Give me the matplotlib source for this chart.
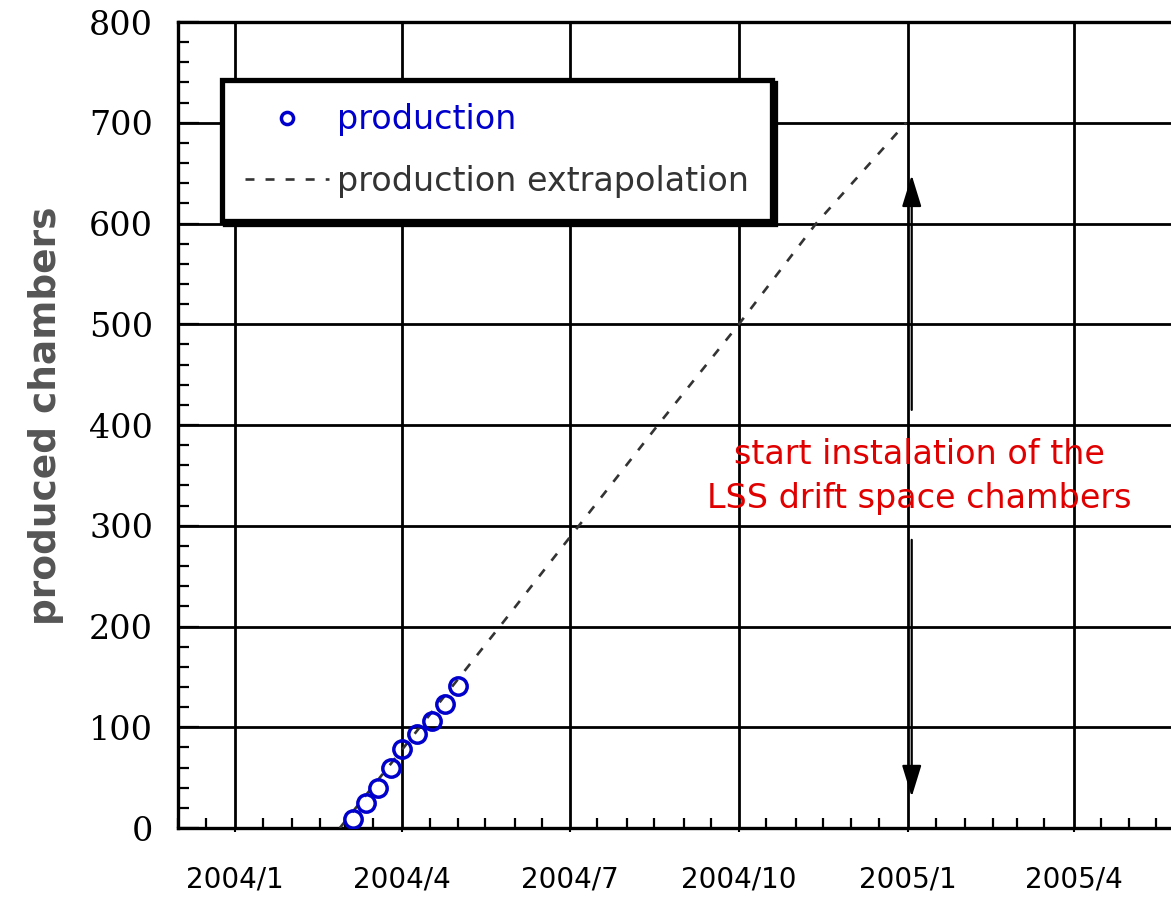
import datetime as dt
import matplotlib
matplotlib.use("Agg")
import matplotlib.pyplot as plt
import matplotlib.dates as mdates
from matplotlib.ticker import MultipleLocator

# weekly production count
prod_dates = ["2004-03-05", "2004-03-12", "2004-03-19", "2004-03-26", "2004-04-01",
              "2004-04-09", "2004-04-17", "2004-04-24", "2004-05-01"]
prod_counts = [9, 25, 40, 60, 78, 93, 106, 123, 141]

# extrapolated production
extrap_dates = ["2004-02-27", "2004-05-24", "2004-07-06", "2004-08-18",
                "2004-10-01", "2004-11-12", "2004-12-31"]
extrap_counts = [0, 200, 300, 400, 500, 600, 700]

tick_dates = ["2004-01-01", "2004-04-01", "2004-07-01", "2004-10-01", "2005-01-01", "2005-04-01"]
tick_labels = ["2004/1", "2004/4", "2004/7", "2004/10", "2005/1", "2005/4"]

install_date = "2005-01-03"
install_range = (415, 648, 286, 31)   # upper arrow from/to, lower arrow from/to
note_text = "start instalation of the\nLSS drift space chambers"


def d(s):
    return mdates.date2num(dt.datetime.strptime(s, "%Y-%m-%d"))


fig = plt.figure(figsize=(11.71, 8.97), dpi=100)
ax = fig.add_axes([178 / 1171, 69 / 897, 993 / 1171, 806 / 897])

ax.plot([d(s) for s in extrap_dates], extrap_counts, color="#333333", lw=1.9,
        dashes=(3.4, 4.2), label="production extrapolation", zorder=3)
ax.plot([d(s) for s in prod_dates], prod_counts, linestyle="none", marker="o",
        markersize=12.5, mfc="none", mec="#0000cc", mew=2.5, color="#0000cc",
        label="production", zorder=4)

# axes limits and ticks
ax.set_xlim(d("2003-12-01"), d("2005-05-24"))
ax.set_ylim(0, 800)
ax.set_xticks([d(s) for s in tick_dates])
ax.set_xticklabels(tick_labels, fontsize=20, family="DejaVu Sans")
ax.xaxis.set_minor_locator(mdates.DayLocator(bymonthday=[1, 16]))
ax.yaxis.set_major_locator(MultipleLocator(100))
ax.yaxis.set_minor_locator(MultipleLocator(20))
for lab in ax.get_yticklabels():
    lab.set_family("DejaVu Serif")
    lab.set_fontsize(24)

ax.tick_params(axis="x", which="major", direction="out", length=3, width=1.5, pad=24)
ax.tick_params(axis="x", which="minor", direction="in", length=7, width=1.6)
ax.tick_params(axis="y", which="major", direction="in", length=15, width=1.6, pad=18)
ax.tick_params(axis="y", which="minor", direction="in", length=8, width=1.6)

ax.grid(which="major", color="black", lw=2.0)
ax.set_axisbelow(True)
for side in ["left", "bottom", "top"]:
    ax.spines[side].set_linewidth(2.4)
ax.spines["right"].set_visible(False)

ax.set_ylabel("produced chambers", fontsize=27, fontweight="bold", color="#555555")
ax.yaxis.set_label_coords(-0.115, 0.511)

# installation arrows and note
xa = d(install_date)
for start, end in [(install_range[0], install_range[1]), (install_range[2], install_range[3])]:
    ax.annotate("", xy=(xa, end), xytext=(xa, start),
                arrowprops=dict(arrowstyle="-|>,head_length=1.3,head_width=0.4",
                                mutation_scale=15, color="black", lw=1.6,
                                shrinkA=0, shrinkB=0))
ax.text(d("2005-01-07"), 349, note_text, ha="center", va="center", color="#e00000",
        fontsize=24, linespacing=1.45)

# legend with heavy frame and hard shadow
h, l = ax.get_legend_handles_labels()
leg = ax.legend(h[::-1], l[::-1], loc="upper left", bbox_to_anchor=(0.0443, 0.928),
                borderaxespad=0, fontsize=24, handlelength=2.5, handletextpad=0.25,
                labelspacing=0.85, borderpad=0.7, markerscale=0.7, fancybox=False,
                framealpha=1, labelcolor="linecolor",
                shadow={"color": "black", "alpha": 1})
leg.get_frame().set_edgecolor("black")
leg.get_frame().set_linewidth(3.8)

fig.savefig("out.png", dpi=100)
